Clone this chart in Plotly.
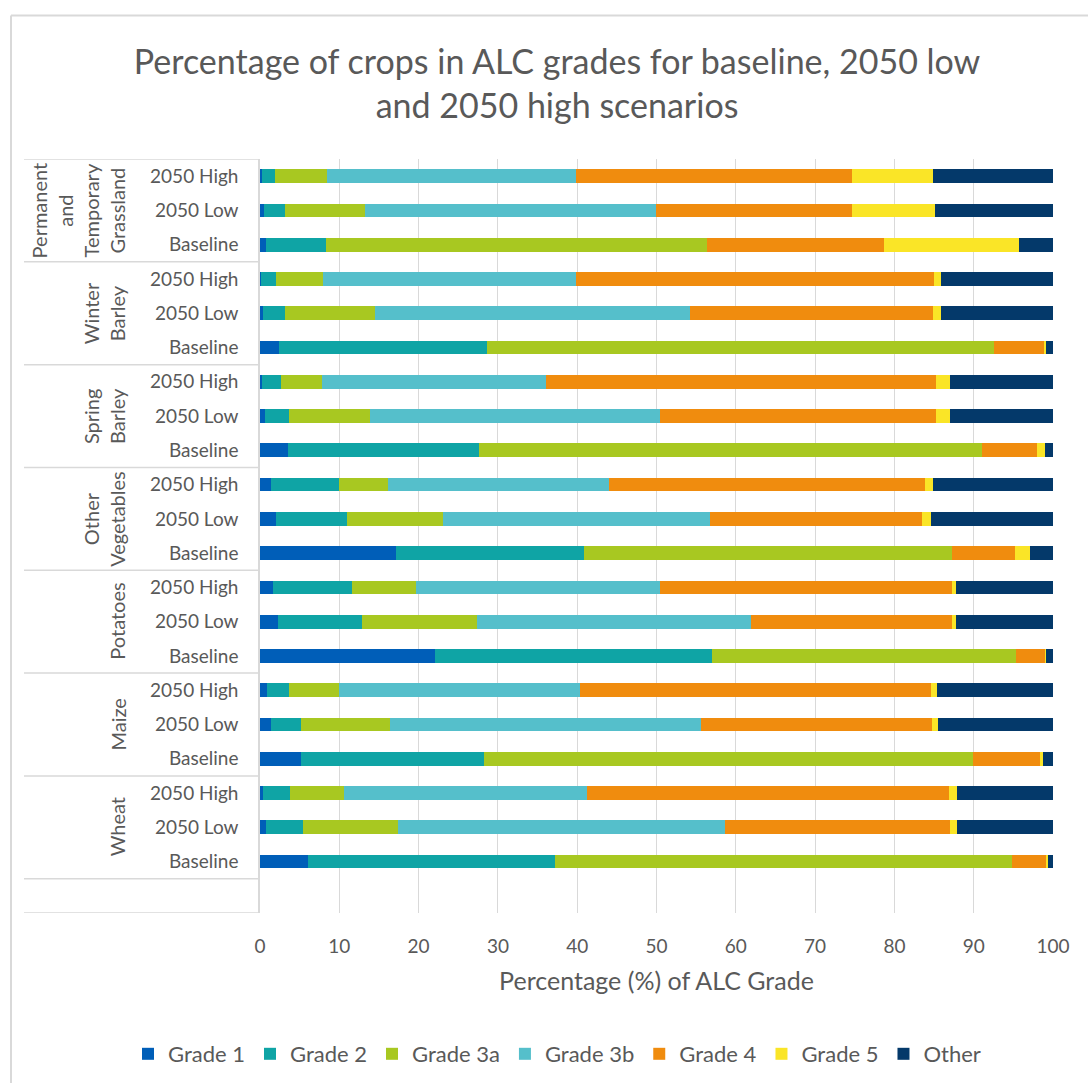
import plotly.graph_objects as go

# Crops (top to bottom) and scenarios within each crop (top to bottom)
crops = ["Permanent and Temporary Grassland", "Winter Barley", "Spring Barley",
         "Other Vegetables", "Potatoes", "Maize", "Wheat"]
crop_labels = ["Permanent<br>and<br>Temporary<br>Grassland", "Winter<br>Barley",
               "Spring<br>Barley", "Other<br>Vegetables", "Potatoes", "Maize", "Wheat"]
scenarios = ["2050 High", "2050 Low", "Baseline"]

grades = ["Grade 1", "Grade 2", "Grade 3a", "Grade 3b", "Grade 4", "Grade 5", "Other"]
colors = ["#005EB8", "#0FA4A5", "#A8C821", "#55BFCB", "#F08C0E", "#FAE527", "#04396A"]

# Percentage of crop area per ALC grade, rows in crop/scenario order (top to bottom)
grade_1 = [0.2, 0.5, 0.8,   0.1, 0.4, 2.4,   0.3, 0.6, 3.5,   1.4, 2.0, 17.1,
           1.7, 2.3, 22.1,  0.9, 1.4, 5.2,   0.4, 0.8, 6.1]
grade_2 = [1.7, 2.6, 7.5,   1.9, 2.8, 26.2,  2.3, 3.1, 24.1,  8.6, 9.0, 23.8,
           9.9, 10.6, 34.9, 2.8, 3.8, 23.0,  3.4, 4.6, 31.1]
grade_3a = [6.5, 10.2, 48.1, 6.0, 11.3, 63.9, 5.2, 10.2, 63.4, 6.1, 12.1, 46.3,
            8.1, 14.5, 38.3, 6.2, 11.2, 61.7, 6.8, 12.0, 57.6]
grade_3b = [31.5, 36.6, 0.0, 31.8, 39.7, 0.0, 28.3, 36.6, 0.0, 27.9, 33.6, 0.0,
            30.8, 34.5, 0.0, 30.4, 39.2, 0.0, 30.6, 41.3, 0.0]
grade_4 = [34.7, 24.7, 22.3, 45.2, 30.7, 6.4, 49.2, 34.8, 7.0, 39.8, 26.8, 8.0,
           36.7, 25.3, 3.7, 44.3, 29.2, 8.5, 45.7, 28.3, 4.4]
grade_5 = [10.3, 10.5, 17.0, 0.9, 1.0, 0.2, 1.7, 1.7, 1.0, 1.1, 1.1, 1.9,
           0.6, 0.6, 0.1, 0.8, 0.7, 0.3, 1.0, 0.9, 0.2]
other = [15.1, 14.9, 4.3, 14.1, 14.1, 0.9, 13.0, 13.0, 1.0, 15.1, 15.4, 2.9,
         12.2, 12.2, 0.9, 14.6, 14.5, 1.3, 12.1, 12.1, 0.6]

series = [grade_1, grade_2, grade_3a, grade_3b, grade_4, grade_5, other]

rows = [(c, s) for c in crops for s in scenarios]
row_keys = [f"{c} | {s}" for c, s in rows]
row_text = [s for _, s in rows]

TEXT = "#595959"
GRID = "#D9D9D9"
FONT = "Lato"

W, H = 1088, 1083
L, R, T, B = 260, 35, 159, 170
plot_w = W - L - R
plot_h = H - T - B


def px_x(px):
    return (px - L) / plot_w


def px_y(py):
    return (H - B - py) / plot_h


fig = go.Figure()
for name, vals, col in zip(grades, series, colors):
    fig.add_trace(go.Bar(
        name=name, x=vals, y=row_keys, orientation="h",
        marker=dict(color=col, line=dict(width=0)),
    ))

n = len(rows)
# category index 0 is the bottom row; one empty slot is left below it
cat_order = list(reversed(row_keys))

shapes = []
# outer chart frame (top and left edges)
shapes.append(dict(type="line", xref="paper", yref="paper",
                   x0=px_x(11), x1=px_x(W), y0=px_y(15.5), y1=px_y(15.5),
                   line=dict(color=GRID, width=2)))
shapes.append(dict(type="line", xref="paper", yref="paper",
                   x0=px_x(11), x1=px_x(11), y0=px_y(15.5), y1=px_y(H),
                   line=dict(color=GRID, width=2)))
# group separators in the category table
bounds = [n - 0.5] + [n - 0.5 - 3 * k for k in range(1, len(crops) + 1)] + [-1.5]
for b in bounds:
    shapes.append(dict(type="line", xref="paper", yref="y",
                       x0=px_x(24), x1=0, y0=b, y1=b,
                       line=dict(color=GRID, width=1.5)))

annotations = []
for c, lab in zip(crops, crop_labels):
    annotations.append(dict(
        x=px_x(131), xref="paper", xanchor="right",
        y=f"{c} | 2050 Low", yref="y", yanchor="middle",
        text=lab, textangle=-90, showarrow=False,
        font=dict(family=FONT, size=20, color=TEXT),
    ))

fig.update_layout(
    width=W, height=H,
    margin=dict(l=L, r=R, t=T, b=B, autoexpand=False),
    paper_bgcolor="white", plot_bgcolor="white",
    barmode="stack", bargap=0.6,
    font=dict(family=FONT, color=TEXT),
    title=dict(
        text="Percentage of crops in ALC grades for baseline, 2050 low<br>and 2050 high scenarios",
        x=0.512, xanchor="center", xref="container",
        y=0.932, yanchor="top", yref="container",
        font=dict(family=FONT, size=34, color=TEXT),
    ),
    xaxis=dict(
        range=[0, 100], tickvals=list(range(0, 101, 10)),
        showgrid=True, gridcolor=GRID, gridwidth=1.3,
        zeroline=False, showline=False, ticks="", automargin=False,
        ticklabelstandoff=20,
        tickfont=dict(family=FONT, size=19, color=TEXT),
        title=dict(text="Percentage (%) of ALC Grade", standoff=16,
                   font=dict(family=FONT, size=25, color=TEXT)),
    ),
    yaxis=dict(
        type="category", categoryorder="array", categoryarray=cat_order,
        range=[-1.5, n - 0.5],
        tickvals=row_keys, ticktext=row_text,
        showgrid=False, zeroline=False, automargin=False,
        showline=True, linecolor=GRID, linewidth=1.5,
        ticks="", ticklabelstandoff=16,
        tickfont=dict(family=FONT, size=19, color=TEXT),
    ),
    legend=dict(
        orientation="h", xref="paper", yref="paper",
        x=px_x(128), xanchor="left", y=px_y(1054), yanchor="middle",
        font=dict(family=FONT, size=22, color=TEXT),
        traceorder="normal",
    ),
    shapes=shapes,
    annotations=annotations,
)

fig.write_html("out.html")
